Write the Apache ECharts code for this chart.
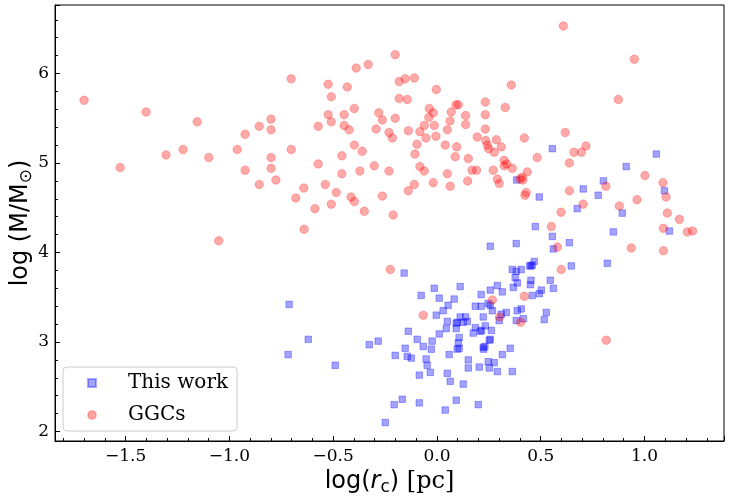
<!DOCTYPE html>
<html>
<head>
<meta charset="utf-8">
<script src="https://cdn.jsdelivr.net/npm/echarts@6/dist/echarts.min.js"></script>
<style>
  html, body { margin: 0; padding: 0; background: #fff; }
  #chart { width: 730px; height: 501px; }
</style>
</head>
<body>
<div id="chart"></div>
<script>
// 数据：log(r_c) [pc] 与 log(M/M⊙)
var thisWork = [
  [0.556, 5.16], [1.057, 5.10], [0.912, 4.96], [0.802, 4.80], [0.705, 4.71], [0.777, 4.64],
  [1.096, 4.69], [0.493, 4.62], [0.676, 4.49], [0.893, 4.44], [0.384, 4.81],
  [-0.158, 3.77], [-0.076, 3.52], [-0.712, 3.42], [-0.620, 3.03], [-0.717, 2.86], [-0.490, 2.74],
  [-0.326, 2.97], [-0.283, 3.01], [-0.138, 3.12], [-0.095, 3.03], [-0.153, 2.93], [-0.201, 2.85],
  [-0.143, 2.84], [-0.124, 2.82], [-0.066, 2.95], [-0.052, 2.81], [-0.047, 2.74], [-0.085, 2.63],
  [-0.167, 2.36], [-0.206, 2.30], [-0.085, 2.32], [-0.249, 2.10],
  [0.474, 4.29], [0.556, 4.18], [0.638, 4.11], [0.561, 4.04], [0.257, 4.07], [0.382, 4.10],
  [0.647, 3.85], [0.469, 3.90], [0.453, 3.85], [0.459, 3.86], [0.447, 3.85], [0.363, 3.81],
  [0.406, 3.81], [0.382, 3.79], [0.377, 3.72], [0.387, 3.66], [0.368, 3.61], [0.453, 3.69],
  [0.450, 3.64], [0.546, 3.69], [0.561, 3.60], [0.503, 3.58], [0.493, 3.54], [0.459, 3.52],
  [0.527, 3.33], [0.517, 3.25], [0.291, 3.63], [0.315, 3.56], [0.257, 3.58], [0.213, 3.53],
  [0.112, 3.62], [-0.013, 3.60], [0.011, 3.49], [0.083, 3.48], [0.054, 3.41], [0.030, 3.35],
  [-0.003, 3.30], [0.050, 3.23], [0.045, 3.15], [0.011, 3.09], [-0.023, 3.01], [-0.027, 2.92],
  [-0.032, 2.66], [0.050, 2.65], [0.064, 2.56], [0.127, 2.53], [0.059, 2.86], [0.107, 3.05],
  [0.103, 2.99], [0.098, 2.92], [0.107, 2.93], [0.151, 2.80], [0.151, 2.71], [0.204, 2.72],
  [0.247, 2.78], [0.276, 2.77], [0.252, 2.71], [0.291, 2.67], [0.363, 2.67], [0.315, 2.86],
  [0.353, 2.93], [0.093, 2.35], [0.199, 2.30], [0.040, 2.24], [0.223, 2.94], [0.231, 2.95],
  [0.225, 2.92], [0.252, 3.02], [0.257, 3.03], [0.175, 3.10], [0.185, 3.16], [0.209, 3.12],
  [0.215, 3.13], [0.233, 3.18], [0.262, 3.13], [0.223, 3.28], [0.093, 3.15], [0.093, 3.21],
  [0.098, 3.22], [0.112, 3.28], [0.138, 3.28], [0.127, 3.22], [0.146, 3.23], [0.185, 3.40],
  [0.213, 3.40], [0.247, 3.43], [0.257, 3.41], [0.267, 3.35], [0.310, 3.31], [0.334, 3.33],
  [0.300, 3.24], [0.387, 3.35], [0.406, 3.37], [0.382, 3.24], [0.416, 3.26],
  [0.850, 4.23], [1.120, 4.24], [0.821, 3.88]
];

var ggcs = [
  [-1.700, 5.70], [-1.401, 5.57], [-1.155, 5.46], [-1.526, 4.95], [-1.305, 5.09], [-1.223, 5.15],
  [-1.099, 5.06], [-0.962, 5.15], [-0.924, 5.32], [-0.856, 5.41], [-0.799, 5.49], [-0.799, 5.37],
  [-0.799, 5.06], [-0.799, 4.94], [-0.924, 4.92], [-0.856, 4.76], [-0.776, 4.81],
  [-0.201, 6.21], [-0.331, 6.10], [-0.389, 6.06], [-0.702, 5.94], [-0.182, 5.91], [-0.153, 5.94],
  [-0.109, 5.95], [-0.524, 5.88], [-0.432, 5.85], [-0.003, 5.82], [-0.509, 5.74], [-0.182, 5.72],
  [-0.143, 5.71], [-0.524, 5.54], [-0.509, 5.46], [-0.447, 5.54], [-0.398, 5.61], [-0.447, 5.42],
  [-0.423, 5.37], [-0.572, 5.41], [-0.280, 5.56], [-0.263, 5.48], [-0.201, 5.50], [-0.293, 5.38],
  [-0.231, 5.34], [-0.215, 5.28], [-0.138, 5.36], [-0.037, 5.61], [-0.018, 5.56], [-0.039, 5.51],
  [-0.061, 5.42], [-0.082, 5.35], [-0.013, 5.42], [-0.053, 5.28], [-0.005, 5.30], [-0.096, 5.21],
  [-0.106, 5.10], [-0.082, 4.96], [-0.061, 4.91], [-0.018, 4.78], [-0.109, 4.76], [-0.138, 4.69],
  [-0.211, 4.42], [-0.263, 4.63], [-0.350, 4.46], [-0.414, 4.62], [-0.398, 4.57], [-0.509, 4.54],
  [-0.588, 4.49], [-0.680, 4.61], [-0.641, 4.72], [-0.538, 4.76], [-0.485, 4.67], [-0.458, 4.88],
  [-0.371, 4.91], [-0.302, 4.97], [-0.231, 4.91], [-0.572, 4.99], [-0.458, 5.08], [-0.398, 5.20],
  [-0.360, 5.13], [-0.702, 5.15], [0.050, 5.37], [0.063, 5.47], [0.069, 5.57], [0.092, 5.65],
  [0.103, 5.65], [0.138, 5.53], [0.138, 5.43], [0.233, 5.68], [0.233, 5.54], [0.329, 5.62],
  [0.233, 5.38], [0.194, 5.29], [0.235, 5.25], [0.243, 5.20], [0.249, 5.16], [0.286, 5.26],
  [0.310, 5.18], [0.276, 5.12], [0.040, 5.20], [0.095, 5.18], [0.088, 5.07], [0.151, 5.05],
  [0.169, 4.92], [0.191, 4.92], [0.271, 4.92], [0.324, 5.03], [0.324, 4.97], [0.336, 4.99],
  [0.050, 4.88], [0.148, 4.80], [0.291, 4.82], [0.300, 4.77], [0.064, 4.74],
  [0.609, 6.53], [0.951, 6.16], [0.358, 5.87], [0.874, 5.71], [0.618, 5.34], [0.421, 5.28],
  [0.718, 5.19], [0.660, 5.12], [0.696, 5.12], [0.483, 5.06], [0.638, 5.00], [0.363, 4.94],
  [0.435, 4.90], [0.410, 4.84], [0.400, 4.82], [0.414, 4.81], [0.430, 4.67], [0.424, 4.64],
  [0.638, 4.69], [0.814, 4.74], [1.002, 4.86], [1.089, 4.78], [1.104, 4.62], [0.704, 4.54],
  [0.879, 4.52], [0.964, 4.59], [0.598, 4.45], [1.110, 4.44], [1.168, 4.37],
  [-1.051, 4.13],
  [-0.640, 4.26], [-0.225, 3.81], [-0.066, 3.30],
  [0.551, 4.29], [0.580, 4.06], [0.599, 3.81], [0.421, 3.51], [0.267, 3.47], [0.302, 3.28],
  [0.403, 3.22],
  [1.091, 4.27], [1.206, 4.23], [1.232, 4.24], [0.936, 4.05], [1.091, 4.02], [0.816, 3.02]
];

var seriesNames = ['This work', 'GGCs'];
var xRange = [-1.84, 1.383];
var yRange = [1.894, 6.765];

function fmtX(v) {
  if (Math.abs(v * 2 - Math.round(v * 2)) > 1e-6) return '';
  return (v < -1e-9 ? '\u2212' : '') + Math.abs(v).toFixed(1);
}
function fmtY(v) {
  if (Math.abs(v - Math.round(v)) > 1e-6) return '';
  return String(Math.round(v));
}

var serif = 'DejaVu Serif';
var sans = 'DejaVu Sans';

var chart = echarts.init(document.getElementById('chart'));
var option = {
  animation: false,
  grid: {
    left: 55, right: 6, top: 5, bottom: 60,
    outerBoundsMode: 'none',
    containLabel: false,
    show: true, borderColor: '#000', borderWidth: 1, backgroundColor: 'transparent'
  },
  legend: {
    orient: 'vertical',
    left: 63, top: 367,
    data: seriesNames,
    itemWidth: 8, itemHeight: 8, itemGap: 12,
    padding: [6, 9, 6, 24],
    backgroundColor: 'rgba(255,255,255,0.8)',
    borderColor: '#cccccc', borderWidth: 1, borderRadius: 4,
    textStyle: { fontFamily: serif, fontSize: 20, color: '#000', padding: [0, 0, 0, 27] }
  },
  xAxis: {
    type: 'value',
    min: xRange[0], max: xRange[1],
    splitNumber: 6,
    name: '{a|log(}{i|r}{s|c}{a|)\u00a0}{b|[pc]}',
    nameLocation: 'middle',
    nameGap: 27,
    nameMoveOverlap: false,
    nameTextStyle: {
      fontFamily: serif,
      rich: {
        a: { fontFamily: sans, fontSize: 24, color: '#000', lineHeight: 28 },
        i: { fontFamily: sans, fontStyle: 'italic', fontSize: 24, color: '#000', lineHeight: 28 },
        s: { fontFamily: sans, fontSize: 17, color: '#000', lineHeight: 12, verticalAlign: 'bottom' },
        b: { fontFamily: serif, fontSize: 24, color: '#000', lineHeight: 28 }
      }
    },
    axisLine: { show: true, onZero: false, lineStyle: { color: '#000', width: 1 } },
    axisTick: { show: true, inside: true, length: 5, lineStyle: { color: '#000' } },
    minorTick: { show: true, splitNumber: 5, length: 3, lineStyle: { color: '#000' } },
    splitLine: { show: false },
    axisLabel: {
      fontFamily: serif, fontSize: 17, color: '#000', margin: 7,
      showMinLabel: false, showMaxLabel: false,
      formatter: fmtX
    }
  },
  yAxis: {
    type: 'value',
    min: yRange[0], max: yRange[1],
    splitNumber: 5,
    name: '{a|log (M/M}{s|\u2299}{a|)}',
    nameLocation: 'middle',
    nameRotate: 90,
    nameGap: 20,
    nameMoveOverlap: false,
    nameTextStyle: {
      rich: {
        a: { fontFamily: sans, fontSize: 24, color: '#000', lineHeight: 28 },
        s: { fontFamily: sans, fontSize: 17, color: '#000', lineHeight: 12, verticalAlign: 'bottom' }
      }
    },
    axisLine: { show: true, onZero: false, lineStyle: { color: '#000', width: 1 } },
    axisTick: { show: true, inside: true, length: 5, lineStyle: { color: '#000' } },
    minorTick: { show: true, splitNumber: 5, length: 3, lineStyle: { color: '#000' } },
    splitLine: { show: false },
    axisLabel: {
      fontFamily: serif, fontSize: 17, color: '#000', margin: 6,
      showMinLabel: false, showMaxLabel: false,
      formatter: fmtY
    }
  },
  series: [
    {
      name: seriesNames[0],
      type: 'scatter',
      symbol: 'rect',
      symbolSize: 6.5,
      data: thisWork,
      itemStyle: {
        color: 'rgba(0,0,255,0.45)',
        borderColor: 'rgba(0,0,255,0.4)',
        borderWidth: 1
      }
    },
    {
      name: seriesNames[1],
      type: 'scatter',
      symbol: 'circle',
      symbolSize: 8.5,
      data: ggcs,
      itemStyle: {
        color: 'rgba(255,0,0,0.42)',
        borderColor: 'rgba(255,0,0,0.3)',
        borderWidth: 1
      }
    }
  ]
};
chart.setOption(option);

window.addEventListener('resize', function () {
  chart.resize();
});
</script>
</body>
</html>
